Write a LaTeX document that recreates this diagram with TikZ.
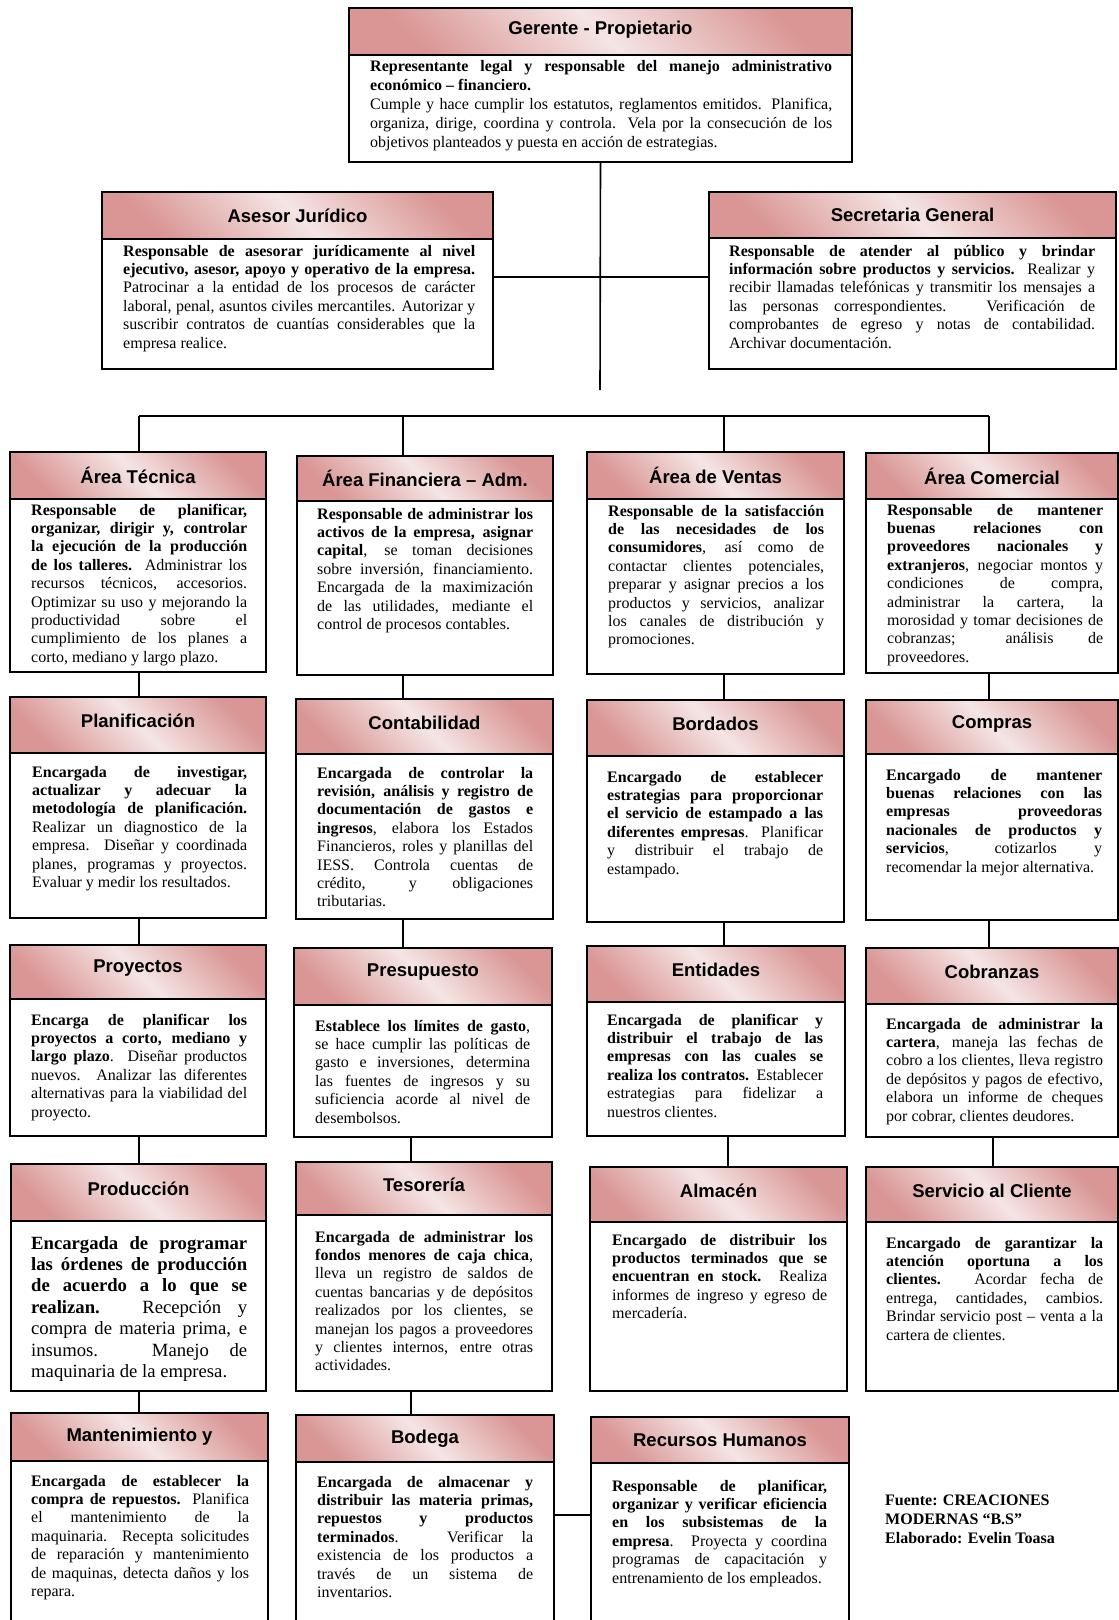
\documentclass[tikz,border=0pt]{standalone}
\usepackage{fontspec}
\setmainfont{Liberation Serif}
\newfontfamily\hdrfont{Liberation Sans}
\usetikzlibrary{fit,calc}
\definecolor{hdrdark}{RGB}{217,150,148}
\definecolor{hdrlight}{RGB}{245,229,229}
\setlength{\parindent}{0pt}
\hbadness=10000
\hfuzz=4pt
\newcommand\myLB{\linebreak}
\tikzset{
  hdr/.style={draw, line width=2pt, inner sep=0pt, top color=hdrdark, bottom color=hdrdark, middle color=hdrlight, shading angle=-45},
  bodybox/.style={draw, line width=2pt, inner sep=0pt, fill=white},
  ttl/.style={font=\hdrfont\bfseries\fontsize{18.5}{20}\selectfont, inner sep=0pt},
  txt/.style={inner sep=0pt, align=justify, font=\fontsize{16}{18.4}\selectfont},
  txtger/.style={inner sep=0pt, align=justify, font=\fontsize{16}{18.9}\selectfont},
  txtbig/.style={inner sep=0pt, align=justify, font=\fontsize{18.67}{21.4}\selectfont},
  srcnote/.style={inner sep=0pt, align=left, font=\bfseries\fontsize{16}{19}\selectfont},
  conn/.style={line width=1.6pt},
}
% #1 name, #2 x1, #3 x2, #4 top, #5 header bottom, #6 bottom, #7 title shift, #8 title
\newcommand\orgbox[8]{%
  \node[hdr, fit={(#2,#4) (#3,#5)}] (#1) {};
  \node[ttl] (#1-t) at ([yshift=#7pt]#1.center) {#8};
  \node[bodybox, fit={(#2,#5) (#3,#6)}] (#1-b) {};
}
% #1 name, #2 x, #3 y top, #4 width, #5 style, #6 text
\newcommand\orgtext[6]{%
  \node[#5, text width=#4pt, anchor=north west] (#1-x) at (#2,#3) {\strut #6};
}
\begin{document}
\begin{tikzpicture}[x=1pt,y=-1pt]
\useasboundingbox (0,0) rectangle (1119,1620);
\fill[white] (0,0) rectangle (1119,1620);
\clip (0,0) rectangle (1119,1620);

% ---------- named points for connectors ----------
\coordinate (tr) at (600,390);
\coordinate (jn) at (600,277);
\coordinate (b1) at (139,416);
\coordinate (b2) at (403,416);
\coordinate (b3) at (724,416);
\coordinate (b4) at (989,416);
\coordinate (k1) at (139,0);
\coordinate (k2) at (403,0);
\coordinate (k2b) at (411,0);
\coordinate (k3) at (724,0);
\coordinate (k3b) at (728,0);
\coordinate (k4) at (989,0);
\coordinate (k4b) at (993,0);
\coordinate (jr) at (0,1515);

% ---------- boxes ----------
\orgbox{ger}{349}{852}{8}{55}{162}{1.5}{Gerente - Propietario}
\orgbox{ase}{102}{493}{192}{239}{369}{0}{Asesor Jurídico}
\orgbox{sec}{709}{1116}{192}{238}{369}{0}{Secretaria General}

\orgbox{tec}{10}{266}{452}{499}{672}{0}{Área Técnica}
\orgbox{fin}{297}{553}{456}{501}{675}{0}{Área Financiera – Adm.}
\orgbox{ven}{587}{844}{452}{499}{674}{0}{Área de Ventas}
\orgbox{com}{866}{1118}{453}{499}{673}{0}{Área Comercial}

\orgbox{pla}{10}{266}{697}{753}{918}{4}{Planificación}
\orgbox{con}{296}{553}{699}{754}{919}{4}{Contabilidad}
\orgbox{bor}{587}{844}{700}{756}{922}{4}{Bordados}
\orgbox{cpr}{866}{1118}{700}{754}{920}{3}{Compras}

\orgbox{pro}{10}{266}{945}{999}{1136}{4}{Proyectos}
\orgbox{pre}{294}{552}{948}{1005}{1137}{4}{Presupuesto}
\orgbox{ent}{587}{845}{946}{1002}{1136}{4}{Entidades}
\orgbox{cob}{866}{1118}{948}{1004}{1137}{4}{Cobranzas}

\orgbox{prd}{11}{266}{1164}{1221}{1391}{4}{Producción}
\orgbox{tes}{296}{552}{1162}{1215}{1391}{4}{Tesorería}
\orgbox{alm}{590}{847}{1167}{1222}{1391}{4}{Almacén}
\orgbox{ser}{866}{1118}{1167}{1222}{1391}{4}{Servicio al Cliente}

\orgbox{man}{11}{268}{1413}{1461}{1640}{0}{Mantenimiento y}
\orgbox{bod}{296}{554}{1415}{1462}{1640}{0}{Bodega}
\orgbox{rrh}{591}{849}{1417}{1463}{1640}{0}{Recursos Humanos}

% ---------- connectors ----------
\draw[conn] (ger-b.south) -- (tr);
\draw[conn] (ase-b.east |- jn) -- (sec-b.west |- jn);
\draw[conn] (b1) -- (b4);
\draw[conn] (b1) -- (tec.north -| b1);
\draw[conn] (b2) -- (fin.north -| b2);
\draw[conn] (b3) -- (ven.north -| b3);
\draw[conn] (b4) -- (com.north -| b4);

\draw[conn] (tec-b.south -| k1) -- (pla.north -| k1);
\draw[conn] (pla-b.south -| k1) -- (pro.north -| k1);
\draw[conn] (pro-b.south -| k1) -- (prd.north -| k1);
\draw[conn] (prd-b.south -| k1) -- (man.north -| k1);

\draw[conn] (fin-b.south -| k2) -- (con.north -| k2);
\draw[conn] (con-b.south -| k2) -- (pre.north -| k2);
\draw[conn] (pre-b.south -| k2b) -- (tes.north -| k2b);
\draw[conn] (tes-b.south -| k2b) -- (bod.north -| k2b);

\draw[conn] (ven-b.south -| k3) -- (bor.north -| k3);
\draw[conn] (bor-b.south -| k3) -- (ent.north -| k3);
\draw[conn] (ent-b.south -| k3b) -- (alm.north -| k3b);

\draw[conn] (com-b.south -| k4) -- (cpr.north -| k4);
\draw[conn] (cpr-b.south -| k4) -- (cob.north -| k4);
\draw[conn] (cob-b.south -| k4b) -- (ser.north -| k4b);

\draw[conn] (bod-b.east |- jr) -- (rrh-b.west |- jr);

% ---------- texts ----------
\orgtext{ger}{370}{58}{462}{txtger}{\textbf{Representante legal y responsable del manejo administrativo\myLB económico – financiero.}\par Cumple y hace cumplir los estatutos, reglamentos emitidos. Planifica,\myLB organiza, dirige, coordina y controla. Vela por la consecución de los\myLB objetivos planteados y puesta en acción de estrategias.}

\orgtext{ase}{123}{243}{352}{txt}{\textbf{Responsable de asesorar jurídicamente al nivel\myLB ejecutivo, asesor, apoyo y operativo de la empresa.}\myLB Patrocinar a la entidad de los procesos de carácter\myLB laboral, penal, asuntos civiles mercantiles. Autorizar y\myLB suscribir contratos de cuantías considerables que la\myLB empresa realice.}

\orgtext{sec}{729}{243}{366}{txt}{\textbf{Responsable de atender al público y brindar\myLB información sobre productos y servicios.} Realizar y\myLB recibir llamadas telefónicas y transmitir los mensajes a\myLB las personas correspondientes. Verificación de\myLB comprobantes de egreso y notas de contabilidad.\myLB Archivar documentación.}

\orgtext{tec}{31}{502}{216}{txt}{\textbf{Responsable de planificar,\myLB organizar, dirigir y, controlar\myLB la ejecución de la producción\myLB de los talleres.} Administrar los\myLB recursos técnicos, accesorios.\myLB Optimizar su uso y mejorando la\myLB productividad sobre el\myLB cumplimiento de los planes a\myLB corto, mediano y largo plazo.}

\orgtext{fin}{317}{506}{216}{txt}{\textbf{Responsable de administrar los\myLB activos de la empresa, asignar\myLB capital}, se toman decisiones\myLB sobre inversión, financiamiento.\myLB Encargada de la maximización\myLB de las utilidades, mediante el\myLB control de procesos contables.}

\orgtext{ven}{608}{503}{216}{txt}{\textbf{Responsable de la satisfacción\myLB de las necesidades de los\myLB consumidores}, así como de\myLB contactar clientes potenciales,\myLB preparar y asignar precios a los\myLB productos y servicios, analizar\myLB los canales de distribución y\myLB promociones.}

\orgtext{com}{887}{502}{216}{txt}{\textbf{Responsable de mantener\myLB buenas relaciones con\myLB proveedores nacionales y\myLB extranjeros}, negociar montos y\myLB condiciones de compra,\myLB administrar la cartera, la\myLB morosidad y tomar decisiones de\myLB cobranzas; análisis de\myLB proveedores.}

\orgtext{pla}{32}{764}{215}{txt}{\textbf{Encargada de investigar,\myLB actualizar y adecuar la\myLB metodología de planificación.}\myLB Realizar un diagnostico de la\myLB empresa. Diseñar y coordinada\myLB planes, programas y proyectos.\myLB Evaluar y medir los resultados.}

\orgtext{con}{317}{765}{216}{txt}{\textbf{Encargada de controlar la\myLB revisión, análisis y registro de\myLB documentación de gastos e\myLB ingresos}, elabora los Estados\myLB Financieros, roles y planillas del\myLB IESS. Controla cuentas de\myLB crédito, y obligaciones\myLB tributarias.}

\orgtext{bor}{607}{769}{216}{txt}{\textbf{Encargado de establecer\myLB estrategias para proporcionar\myLB el servicio de estampado a las\myLB diferentes empresas}. Planificar\myLB y distribuir el trabajo de\myLB estampado.}

\orgtext{cpr}{886}{767}{216}{txt}{\textbf{Encargado de mantener\myLB buenas relaciones con las\myLB empresas proveedoras\myLB nacionales de productos y\myLB servicios}, cotizarlos y\myLB recomendar la mejor alternativa.}

\orgtext{pro}{31}{1012}{216}{txt}{\textbf{Encarga de planificar los\myLB proyectos a corto, mediano y\myLB largo plazo}. Diseñar productos\myLB nuevos. Analizar las diferentes\myLB alternativas para la viabilidad del\myLB proyecto.}

\orgtext{pre}{315}{1018}{215}{txt}{\textbf{Establece los límites de gasto},\myLB se hace cumplir las políticas de\myLB gasto e inversiones, determina\myLB las fuentes de ingresos y su\myLB suficiencia acorde al nivel de\myLB desembolsos.}

\orgtext{ent}{607}{1012}{216}{txt}{\textbf{Encargada de planificar y\myLB distribuir el trabajo de las\myLB empresas con las cuales se\myLB realiza los contratos.} Establecer\myLB estrategias para fidelizar a\myLB nuestros clientes.}

\orgtext{cob}{886}{1016}{217}{txt}{\textbf{Encargada de administrar la\myLB cartera}, maneja las fechas de\myLB cobro a los clientes, lleva registro\myLB de depósitos y pagos de efectivo,\myLB elabora un informe de cheques\myLB por cobrar, clientes deudores.}

\orgtext{prd}{31}{1234}{216}{txtbig}{\textbf{Encargada de programar\myLB las órdenes de producción\myLB de acuerdo a lo que se\myLB realizan.} Recepción y\myLB compra de materia prima, e\myLB insumos. Manejo de\myLB maquinaria de la empresa.}

\orgtext{tes}{315}{1229}{218}{txt}{\textbf{Encargada de administrar los\myLB fondos menores de caja chica},\myLB lleva un registro de saldos de\myLB cuentas bancarias y de depósitos\myLB realizados por los clientes, se\myLB manejan los pagos a proveedores\myLB y clientes internos, entre otras\myLB actividades.}

\orgtext{alm}{612}{1232}{215}{txt}{\textbf{Encargado de distribuir los\myLB productos terminados que se\myLB encuentran en stock.} Realiza\myLB informes de ingreso y egreso de\myLB mercadería.}

\orgtext{ser}{886}{1235}{217}{txt}{\textbf{Encargado de garantizar la\myLB atención oportuna a los\myLB clientes.} Acordar fecha de\myLB entrega, cantidades, cambios.\myLB Brindar servicio post – venta a la\myLB cartera de clientes.}

\orgtext{man}{31}{1473}{218}{txt}{\textbf{Encargada de establecer la\myLB compra de repuestos.} Planifica\myLB el mantenimiento de la\myLB maquinaria. Recepta solicitudes\myLB de reparación y mantenimiento\myLB de maquinas, detecta daños y los\myLB repara.}

\orgtext{bod}{317}{1474}{216}{txt}{\textbf{Encargada de almacenar y\myLB distribuir las materia primas,\myLB repuestos y productos\myLB terminados}. Verificar la\myLB existencia de los productos a\myLB través de un sistema de\myLB inventarios.}

\orgtext{rrh}{612}{1478}{215}{txt}{\textbf{Responsable de planificar,\myLB organizar y verificar eficiencia\myLB en los subsistemas de la\myLB empresa}. Proyecta y coordina\myLB programas de capacitación y\myLB entrenamiento de los empleados.}

\node[srcnote, anchor=north west] (fte) at (885,1492) {\strut Fuente: CREACIONES\\MODERNAS “B.S”\\Elaborado: Evelin Toasa};
\end{tikzpicture}
\end{document}
